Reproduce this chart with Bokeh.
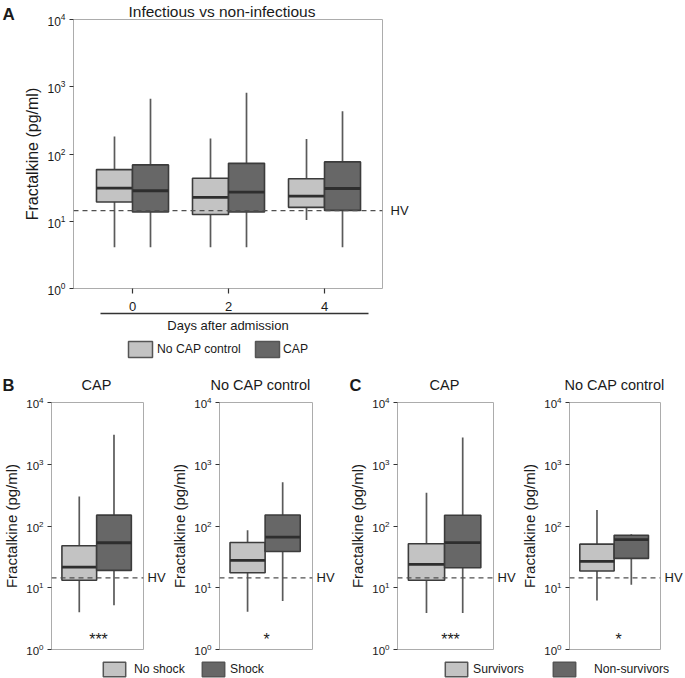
from bokeh.plotting import figure
from bokeh.models import (Range1d, FixedTicker, LinearAxis, Span, Label, Legend,
                          LegendItem, ColumnDataSource, CustomJSTickFormatter, Spacer)
from bokeh.layouts import column, row
from bokeh.embed import file_html
from bokeh.resources import INLINE

# ---------------- data ----------------
days = [0, 2, 4]
a_ctrl_low = [4.1, 4.1, 10.4]
a_ctrl_q1 = [19.3, 12.6, 16.1]
a_ctrl_med = [31.0, 22.6, 23.7]
a_ctrl_q3 = [58.6, 43.6, 42.8]
a_ctrl_high = [182, 170, 167]
a_cap_low = [4.1, 4.1, 4.1]
a_cap_q1 = [13.7, 13.7, 14.5]
a_cap_med = [28.4, 27.1, 30.7]
a_cap_q3 = [68.8, 72.6, 76.3]
a_cap_high = [662, 813, 431]
a_groups = ["No CAP control", "CAP"]

shock_groups = ["No shock", "Shock"]
b_cap_low = [4.0, 5.2]
b_cap_q1 = [13.2, 19.1]
b_cap_med = [21.6, 53.5]
b_cap_q3 = [47.8, 150]
b_cap_high = [300, 3000]
b_ctrl_low = [4.1, 6.1]
b_ctrl_q1 = [17.5, 38.7]
b_ctrl_med = [27.7, 66]
b_ctrl_q3 = [54, 151]
b_ctrl_high = [85, 510]

surv_groups = ["Survivors", "Non-survivors"]
c_cap_low = [3.9, 3.9]
c_cap_q1 = [13.2, 21.1]
c_cap_med = [23.9, 53.7]
c_cap_q3 = [51.7, 149]
c_cap_high = [347, 2706]
c_ctrl_low = [6.2, 11.2]
c_ctrl_q1 = [18.7, 29.9]
c_ctrl_med = [26.7, 60]
c_ctrl_q3 = [50.8, 70.8]
c_ctrl_high = [181, 73.5]

hv_level = 14.4
y_ticks = [1, 10, 100, 1000, 10000]
sig_cap = "***"
sig_ctrl = "*"

# ---------------- style ----------------
FONT = "Liberation Sans"
LIGHT = "#c3c3c3"
DARK = "#676767"
OUTLINE = "#3c3c3c"
MEDIAN = "#2e2e2e"
WHISK = "#5a5a5a"
FRAME = "#acacac"
TICK = "#333333"
TEXT = "#1a1a1a"
LEGLINE = "#555555"


def px(v):
    return f"{v:.1f}px"


def blank_fig(w, h, top=0):
    p = figure(width=int(w), height=int(h), x_range=Range1d(0, 1), y_range=Range1d(0, 1),
               x_axis_type=None, y_axis_type=None, output_backend="svg",
               toolbar_location=None, min_border=0, min_border_top=int(top),
               min_border_left=0, min_border_right=0, min_border_bottom=0)
    p.outline_line_color = None
    p.grid.grid_line_color = None
    p.background_fill_color = "white"
    p.border_fill_color = "white"
    return p


def add_text(p, fl, fb, xr, yc, text, size, align="left", bold=False):
    """xr, yc: page position of the text's horizontal anchor and vertical middle."""
    p.add_layout(Label(x=xr - fl, y=fb - yc, x_units="screen", y_units="screen",
                       text=text, text_font=FONT, text_font_size=px(size),
                       text_font_style="bold" if bold else "normal",
                       text_align=align, text_baseline="middle", text_color=TEXT))


def base_fig(cx0, cx1, cy0, cy1, fx0, fx1, fy0, fy1, x_range, with_x=False,
             ylab_size=15, ytick_size=11.5, hv_standoff=4):
    p = figure(width=cx1 - cx0, height=cy1 - cy0,
               x_range=x_range, y_range=Range1d(1, 10000),
               y_axis_type="log", x_axis_type="linear" if with_x else None,
               output_backend="svg", toolbar_location=None,
               min_border_left=fx0 - cx0, min_border_right=cx1 - fx1,
               min_border_top=fy0 - cy0, min_border_bottom=cy1 - fy1)
    p.outline_line_color = FRAME
    p.outline_line_width = 1
    p.grid.grid_line_color = None
    p.background_fill_color = "white"
    p.border_fill_color = "white"
    ya = p.yaxis[0]
    ya.ticker = FixedTicker(ticks=y_ticks)
    ya.minor_tick_line_color = None
    ya.axis_line_color = None
    ya.major_tick_line_color = TICK
    ya.major_tick_line_width = 1.2
    ya.major_tick_in = 0
    ya.major_tick_out = 4
    ya.major_label_standoff = 4
    ya.major_label_text_font = FONT
    ya.major_label_text_font_size = px(ytick_size)
    ya.major_label_text_color = TEXT
    ya.axis_label = "Fractalkine (pg/ml)"
    ya.axis_label_text_font = FONT
    ya.axis_label_text_font_style = "normal"
    ya.axis_label_text_font_size = px(ylab_size)
    ya.axis_label_text_color = TEXT
    ya.axis_label_standoff = 3
    p.add_layout(Span(location=hv_level, dimension="width", line_color="#505050",
                      line_width=1.2, line_dash="5 4"))
    hv_axis = LinearAxis(ticker=FixedTicker(ticks=[hv_level]),
                         formatter=CustomJSTickFormatter(code="return 'HV'"),
                         axis_line_color=None, major_tick_line_color=None,
                         minor_tick_line_color=None, major_tick_in=0, major_tick_out=0,
                         major_label_standoff=hv_standoff, major_label_text_font=FONT,
                         major_label_text_font_size=px(13), major_label_text_color=TEXT)
    p.add_layout(hv_axis, "right")
    return p


def draw_boxes(p, xs, low, q1, med, q3, high, fill, width):
    src = ColumnDataSource(dict(x=xs, low=low, q1=q1, med=med, q3=q3, high=high,
                                xl=[x - width / 2 for x in xs],
                                xr=[x + width / 2 for x in xs]))
    p.segment(x0="x", y0="low", x1="x", y1="high", source=src,
              line_color=WHISK, line_width=1.7)
    r = p.vbar(x="x", width=width, bottom="q1", top="q3", source=src,
               fill_color=fill, line_color=OUTLINE, line_width=1.6)
    p.segment(x0="xl", y0="med", x1="xr", y1="med", source=src,
              line_color=MEDIAN, line_width=2.8)
    return r


def legend_row(items, y0, y1):
    """items: (label, fill, q1, q3, box_x, box_y, box_w, box_h, text_x)"""
    children = []
    cursor = 0
    specs = []
    for (lab, fill, q1v, q3v, bx, by, bw, bh, tx) in items:
        gw = int(round(bw / 0.8))
        gh = int(round(bh / 0.8))
        left = int(round(bx - 0.1 * gw))
        top = int(round(by - 0.1 * gh))
        specs.append((lab, fill, q1v, q3v, gw, gh, left, top, tx))
    for i, (lab, fill, q1v, q3v, gw, gh, left, top, tx) in enumerate(specs):
        if left > cursor:
            children.append(Spacer(width=left - cursor, height=y1 - y0))
        nxt = specs[i + 1][6] if i + 1 < len(specs) else 685
        w = nxt - left
        lf = blank_fig(w, y1 - y0, top=max(0, top - y0))
        r = lf.vbar(x=[0.5], width=0.5, bottom=[q1v], top=[q3v], fill_color=fill,
                    line_color=LEGLINE, line_width=1.5, visible=False)
        lg = Legend(items=[LegendItem(label=lab, renderers=[r])], location="top_left",
                    orientation="horizontal", padding=0, margin=0, spacing=0,
                    border_line_color=None, background_fill_alpha=0,
                    glyph_width=gw, glyph_height=gh, label_height=gh,
                    label_standoff=max(0, int(round(tx - left - gw))),
                    label_text_font=FONT, label_text_font_size=px(12.2),
                    label_text_color=TEXT, label_text_baseline="middle")
        lf.add_layout(lg)
        children.append(lf)
        cursor = left + w
    return row(*children)


# ---------------- panel A ----------------
A_CX0, A_CY1 = 20, 337
pA = base_fig(A_CX0, 685, 0, A_CY1, 73, 382, 18, 288,
              Range1d(-1.229, 5.208), with_x=True, ylab_size=16, ytick_size=12,
              hv_standoff=8)
pA.title.text = "Infectious vs non-infectious"
pA.title.align = "left"
pA.title.offset = 55
pA.title.standoff = 0
pA.title.text_font = FONT
pA.title.text_font_style = "normal"
pA.title.text_font_size = px(15.5)
pA.title.text_color = TEXT

xa = pA.xaxis[0]
xa.ticker = FixedTicker(ticks=days)
xa.axis_line_color = None
xa.major_tick_line_color = TICK
xa.major_tick_line_width = 1.2
xa.major_tick_in = 0
xa.major_tick_out = 5
xa.minor_tick_line_color = None
xa.major_label_standoff = 8
xa.major_label_text_font = FONT
xa.major_label_text_font_size = px(13)
xa.major_label_text_color = TEXT

ax2 = LinearAxis(ticker=FixedTicker(ticks=[]), bounds=(-0.667, 4.917),
                 axis_label="Days after admission", axis_line_color="#333333",
                 axis_line_width=1.3, major_tick_line_color=None,
                 minor_tick_line_color=None, axis_label_standoff=4,
                 axis_label_text_font=FONT, axis_label_text_font_style="normal",
                 axis_label_text_font_size=px(13), axis_label_text_color=TEXT)
pA.add_layout(ax2, "below")

off = 0.375
wA = 0.75
draw_boxes(pA, [d - off for d in days], a_ctrl_low, a_ctrl_q1, a_ctrl_med,
           a_ctrl_q3, a_ctrl_high, LIGHT, wA)
draw_boxes(pA, [d + off for d in days], a_cap_low, a_cap_q1, a_cap_med,
           a_cap_q3, a_cap_high, DARK, wA)

tinyA = blank_fig(A_CX0, 40)
add_text(tinyA, 0, 40, 2, 14, "A", 17, bold=True)
rowA = row(column(tinyA, Spacer(width=A_CX0, height=A_CY1 - 40)), pA)

legA = legend_row([
    (a_groups[0], LIGHT, a_ctrl_q1[0], a_ctrl_q3[0], 128, 341, 24, 16, 157),
    (a_groups[1], DARK, a_cap_q1[0], a_cap_q3[0], 255, 341, 24, 16, 283),
], 337, 365)

# ---------------- header for B and C ----------------
H_Y0, H_Y1 = 365, 393
hdr = blank_fig(685, H_Y1 - H_Y0)
add_text(hdr, 0, H_Y1, 2, 384.5, "B", 16.5, bold=True)
add_text(hdr, 0, H_Y1, 349, 384, "C", 16.5, bold=True)

# ---------------- panels B and C ----------------
L_Y0 = 660
CY0, CY1, FY0, FY1 = H_Y1, L_Y0, 402, 649
panels = [
    (0, 168, 47, 143, "CAP", 96,
     (b_cap_low, b_cap_q1, b_cap_med, b_cap_q3, b_cap_high), sig_cap, 94),
    (168, 344, 216, 312, "No CAP control", 260,
     (b_ctrl_low, b_ctrl_q1, b_ctrl_med, b_ctrl_q3, b_ctrl_high), sig_ctrl, 263),
    (344, 518, 397, 493, "CAP", 444,
     (c_cap_low, c_cap_q1, c_cap_med, c_cap_q3, c_cap_high), sig_cap, 450),
    (518, 685, 567, 663, "No CAP control", 614,
     (c_ctrl_low, c_ctrl_q1, c_ctrl_med, c_ctrl_q3, c_ctrl_high), sig_ctrl, 616),
]
figs = []
for (cx0, cx1, fx0, fx1, title, tx, data, sig, sx) in panels:
    p = base_fig(cx0, cx1, CY0, CY1, fx0, fx1, FY0, FY1, Range1d(0.2, 2.85),
                 ylab_size=15, ytick_size=11.5, hv_standoff=4)
    low, q1, med, q3, high = data
    for g, fill in zip([0, 1], [LIGHT, DARK]):
        draw_boxes(p, [g + 1], [low[g]], [q1[g]], [med[g]], [q3[g]], [high[g]], fill, 1.0)
    add_text(p, fx0, FY1, sx, 639, sig, 16, align="center")
    add_text(hdr, 0, H_Y1, tx, 384.5, title, 14.5, align="center")
    figs.append(p)

legBC = legend_row([
    (shock_groups[0], LIGHT, b_cap_q1[0], b_cap_q3[0], 103, 662, 22, 14, 134),
    (shock_groups[1], DARK, b_cap_q1[1], b_cap_q3[1], 202, 662, 22, 14, 230),
    (surv_groups[0], LIGHT, c_cap_q1[0], c_cap_q3[0], 445, 662, 22, 14, 473),
    (surv_groups[1], DARK, c_cap_q1[1], c_cap_q3[1], 553, 662, 22, 14, 594),
], L_Y0, 678)

layout = column(rowA, legA, hdr, row(*figs), legBC)
open("out.html", "w").write(file_html(layout, INLINE))
